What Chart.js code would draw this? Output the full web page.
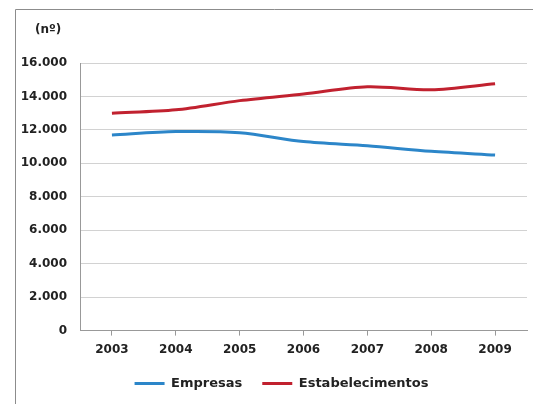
<!DOCTYPE html>
<html>
<head>
<meta charset="utf-8">
<script src="https://cdn.jsdelivr.net/npm/chart.js@4.4.1/dist/chart.umd.min.js"></script>
<style>
  html, body { margin: 0; padding: 0; background: #fff; overflow: hidden; }
  canvas { display: block; }
</style>
</head>
<body>
<canvas id="lineChart" width="533" height="404"></canvas>
<script>
// data
var years = ["2003", "2004", "2005", "2006", "2007", "2008", "2009"];
var empresas = [11700, 11900, 11830, 11300, 11050, 10720, 10500];
var estabelecimentos = [13000, 13200, 13750, 14150, 14580, 14400, 14760];
var unitLabel = "(nº)";

var font = "'DejaVu Sans', sans-serif";

// frame, "(nº)" above the y axis, and nudge the legend a bit to the right
var extrasPlugin = {
  id: "extras",
  afterLayout: function (chart) {
    chart.legend.left += 18;
    chart.legend.right += 18;
  },
  beforeDraw: function (chart) {
    var ctx = chart.ctx;
    ctx.save();
    ctx.strokeStyle = "#8c8c8c";
    ctx.lineWidth = 1;
    ctx.beginPath();
    ctx.moveTo(15.5, chart.height);
    ctx.lineTo(15.5, 9.5);
    ctx.lineTo(chart.width, 9.5);
    ctx.stroke();
    ctx.restore();
  },
  afterDraw: function (chart) {
    var ctx = chart.ctx;
    ctx.save();
    ctx.font = "bold 12px " + font;
    ctx.fillStyle = "#222";
    ctx.textBaseline = "middle";
    ctx.fillText(unitLabel, 35, 30);
    ctx.restore();
  }
};

var ctx = document.getElementById("lineChart").getContext("2d");
var myLineChart = new Chart(ctx, {
  type: "line",
  data: {
    labels: years,
    datasets: [
      {
        label: "Empresas",
        data: empresas,
        borderColor: "#2c86c9",
        backgroundColor: "#2c86c9",
        borderWidth: 3,
        pointRadius: 0,
        tension: 0.3
      },
      {
        label: "Estabelecimentos",
        data: estabelecimentos,
        borderColor: "#c1212f",
        backgroundColor: "#c1212f",
        borderWidth: 3,
        pointRadius: 0,
        tension: 0.3
      }
    ]
  },
  options: {
    responsive: false,
    animation: false,
    layout: { padding: { left: 0, right: 6, top: 63, bottom: 4 } },
    plugins: {
      tooltip: { enabled: false },
      legend: {
        position: "bottom",
        labels: {
          color: "#222",
          font: { family: font, size: 13, weight: "bold" },
          boxWidth: 30,
          boxHeight: 3,
          padding: 20,
          generateLabels: function (chart) {
            return Chart.defaults.plugins.legend.labels.generateLabels(chart).map(function (l) {
              l.lineWidth = 0;
              return l;
            });
          }
        }
      }
    },
    scales: {
      x: {
        offset: true,
        afterFit: function (scale) { scale.height -= 7; },
        grid: { drawOnChartArea: false, drawTicks: true, tickLength: 5, color: "#999" },
        border: { color: "#999" },
        ticks: { color: "#222", padding: 7, font: { family: font, size: 12, weight: "bold" } }
      },
      y: {
        min: 0,
        max: 16000,
        afterFit: function (scale) { scale.width = 80; },
        grid: { drawTicks: false, color: "#d2d2d2" },
        border: { color: "#999" },
        ticks: {
          stepSize: 2000,
          padding: 13,
          color: "#222",
          font: { family: font, size: 12, weight: "bold" },
          callback: function (v) { return v.toLocaleString("de-DE"); }
        }
      }
    }
  },
  plugins: [extrasPlugin]
});
</script>
</body>
</html>
